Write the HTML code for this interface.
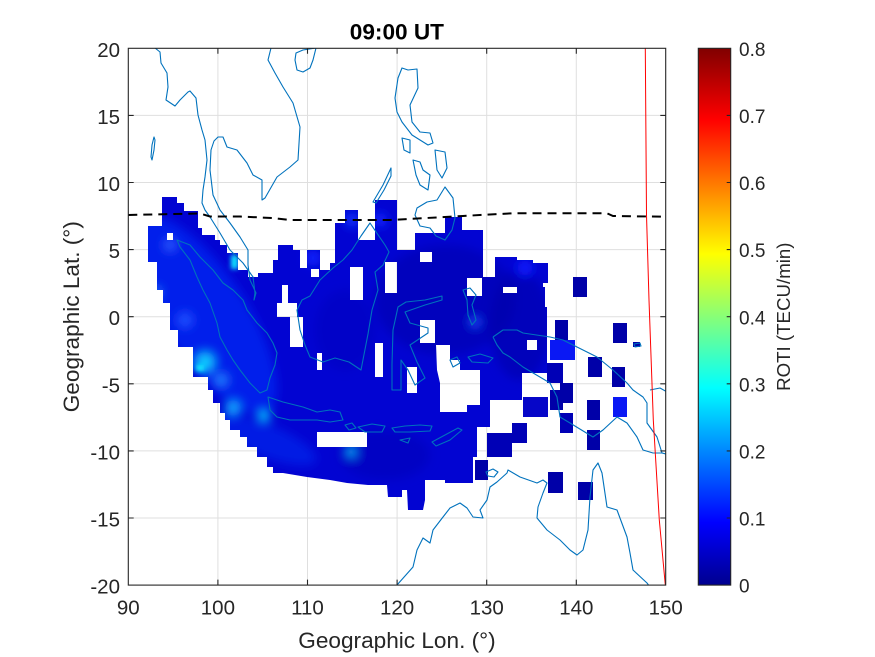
<!DOCTYPE html>
<html><head><meta charset="utf-8"><style>
html,body{margin:0;padding:0;background:#fff;}
svg{display:block;}
text{font-family:"Liberation Sans",Arial,sans-serif;fill:#262626;}
</style></head><body>
<svg width="875" height="657" viewBox="0 0 875 657" xmlns="http://www.w3.org/2000/svg">
<defs>
<clipPath id="ax"><rect x="128.3" y="48.3" width="537.4" height="536.8"/></clipPath>
<path id="blob" fill-rule="evenodd" d="M148,226 L162,226 L162,197 L177,197 L177,203 L184,203 L184,211 L198,211 L198,228 L202,228 L202,235 L215,235 L215,240 L220,240 L220,245 L227,245 L227,253 L238,253 L238,270 L248,270 L248,277 L258,277 L258,273 L273,273 L273,260 L278,260 L278,245 L293,245 L293,250 L300,250 L300,268 L307,268 L307,250 L320,250 L320,270 L330,270 L330,263 L335,263 L335,223 L345,223 L345,210 L358,210 L358,240 L375,240 L375,200 L397,200 L397,250 L415,250 L415,233 L445,233 L445,217 L462,217 L462,230 L483,230 L483,277 L495,277 L495,257 L517,257 L517,260 L533,260 L533,263 L548,263 L548,283 L543,283 L543,287 L545,287 L545,307 L547,307 L547,373 L522,373 L522,400 L490,400 L490,427 L477,427 L477,457 L473,457 L473,483 L445,483 L445,480 L425,480 L425,500 L423,510 L408,510 L407,490 L402,490 L402,497 L388,497 L387,485 L368,485 L347,483 L330,480 L307,477 L283,473 L273,473 L273,467 L267,467 L267,457 L257,457 L257,447 L247,447 L247,437 L240,437 L240,430 L230,430 L230,420 L225,420 L225,413 L220,413 L220,403 L213,403 L213,390 L208,390 L208,377 L193,377 L193,347 L178,347 L178,330 L170,330 L170,303 L163,303 L163,290 L157,290 L157,262 L148,262 Z
M282,285 L288,285 L288,303 L297,303 L297,317 L303,317 L303,347 L290,347 L290,317 L277,317 L277,303 L282,303 Z
M350,267 L363,267 L363,300 L350,300 Z
M317,353 L322,353 L322,370 L317,370 Z
M375,343 L383,343 L383,377 L375,377 Z
M407,367 L417,367 L417,393 L407,393 Z
M420,320 L435,320 L435,343 L420,343 Z
M436,345 L450,345 L450,360 L460,360 L460,370 L480,370 L480,405 L467,405 L467,412 L440,412 L440,383 L437,370 Z
M317,432 L367,432 L367,447 L317,447 Z
M385,262 L397,262 L397,293 L385,293 Z
M467,278 L482,278 L482,296 L467,296 Z
M503,287 L517,287 L517,293 L503,293 Z
M527,340 L537,340 L537,350 L527,350 Z
M311,269 L319,269 L319,277 L311,277 Z
M167,233 L173,233 L173,240 L167,240 Z
M420,252 L432,252 L432,262 L420,262 Z"/>
<clipPath id="cb"><use href="#blob" clip-rule="evenodd"/></clipPath>
<filter id="bl" x="-50%" y="-50%" width="200%" height="200%"><feGaussianBlur stdDeviation="5"/></filter>
<filter id="bl2" x="-50%" y="-50%" width="200%" height="200%"><feGaussianBlur stdDeviation="2.5"/></filter>
<linearGradient id="jet" x1="0" y1="1" x2="0" y2="0">
<stop offset="0" stop-color="rgb(0,0,143)"/>
<stop offset="0.117" stop-color="rgb(0,0,255)"/>
<stop offset="0.367" stop-color="rgb(0,255,255)"/>
<stop offset="0.617" stop-color="rgb(255,255,0)"/>
<stop offset="0.867" stop-color="rgb(255,0,0)"/>
<stop offset="1" stop-color="rgb(128,0,0)"/>
</linearGradient>
</defs>

<rect x="0" y="0" width="875" height="657" fill="#fff"/>

<path stroke="#dfdfdf" stroke-width="1" fill="none" d="M217.9,48.3V585 M307.5,48.3V585 M397.1,48.3V585 M486.7,48.3V585 M576.3,48.3V585 M128.3,115.4H665.7 M128.3,182.5H665.7 M128.3,249.6H665.7 M128.3,316.7H665.7 M128.3,383.8H665.7 M128.3,450.9H665.7 M128.3,518H665.7"/>

<use href="#blob" fill="#0204d2"/>
<g clip-path="url(#cb)">
<g filter="url(#bl)">
<ellipse cx="205" cy="315" rx="42" ry="115" transform="rotate(-33 205 315)" fill="#0a34ff" opacity="0.55"/>
<ellipse cx="265" cy="440" rx="55" ry="16" transform="rotate(22 265 440)" fill="#0c40ff" opacity="0.4"/>
<ellipse cx="445" cy="300" rx="70" ry="55" fill="#0000a8" opacity="0.5"/>
<ellipse cx="520" cy="325" rx="30" ry="55" fill="#0000a8" opacity="0.55"/>
<ellipse cx="385" cy="455" rx="45" ry="25" fill="#0000b4" opacity="0.45"/>
<ellipse cx="345" cy="330" rx="30" ry="40" fill="#0000b8" opacity="0.4"/>
<circle cx="205" cy="362" r="10" fill="#10c8ff"/>
<circle cx="221" cy="380" r="7" fill="#2080ff"/>
<circle cx="233" cy="408" r="8" fill="#10a8ff"/>
<circle cx="264" cy="416" r="6" fill="#00d0ff"/>
<circle cx="156" cy="292" r="5" fill="#2080ff"/>
<circle cx="351" cy="452" r="5" fill="#10c8ff"/>
<circle cx="475" cy="322" r="5" fill="#1a50ff"/>
<circle cx="313" cy="258" r="8" fill="#0a28ff"/>
<circle cx="352" cy="220" r="7" fill="#1038ff"/>
<circle cx="525" cy="268" r="8" fill="#0a1cff"/>
<circle cx="380" cy="220" r="7" fill="#0a28ff"/>
<circle cx="170" cy="245" r="6" fill="#2a60ff"/>
<circle cx="185" cy="320" r="8" fill="#1a50ff"/>
</g>
<g filter="url(#bl2)">
<rect x="231" y="255" width="7" height="14" fill="#10e8ff"/>
<rect x="196" y="365" width="8" height="6" fill="#10f0ff"/>
</g>
</g>

<path fill="#0000a8" d="M573,277h14v20h-14Z M555,320h13v20h-13Z M613,323h14v20h-14Z M588,357h14v20h-14Z M612,367h13v20h-13Z M560,383h13v20h-13Z M550,390h13v20h-13Z M587,400h13v20h-13Z M587,430h13v20h-13Z M548,472h15v21h-15Z M578,482h15v18h-15Z M475,460h13v20h-13Z M633,342h7v5h-7Z"/>
<path fill="#0000b6" d="M547,363h16v20h-16Z M560,413h13v20h-13Z M487,433h25v24h-25Z M512,423h15v20h-15Z"/>
<path fill="#0606c8" d="M523,397h25v20h-25Z"/>
<path fill="#0a18f4" d="M550,340h25v20h-25Z M613,397h14v20h-14Z"/>

<g clip-path="url(#ax)" fill="none" stroke="#0072bd" stroke-width="1.1" stroke-linejoin="round">
<path d="M155,48 L160,52 L161,63 L167,73 L168,87 L166,100 L175,106 L180,100 L188,92 L190,91 L196,98 L198,115 L202,130 L205,140 L207,160 L205,177 L203,190 L202,203 L205,210 L210,217 L220,233 L230,250 L243,263 L253,277 L255,293 L254,300 L256,293 L250,280 L248,265 L248,250 L240,237 L230,223 L220,210 L213,195 L210,170 L211,150 L214,141 L218,137 L223,137 L227,147 L237,150 L247,163 L253,175 L262,180 L262,200 L265,198 L277,177 L290,167 L298,160 L300,127 L293,103 L283,87 L275,73 L268,60 L271,48"/>
<path d="M296,53 L303,50 L316,48 L313,60 L310,68 L303,72 L297,70 L295,60 Z"/>
<path d="M152,160 L154,150 L155,140 L154,137 L152,145 L151,157 Z"/>
<path d="M177,240 L190,245 L200,257 L213,270 L223,283 L233,290 L243,300 L247,310 L257,323 L267,333 L273,343 L277,353 L275,365 L270,378 L267,390 L260,393 L250,383 L240,370 L233,360 L227,350 L220,337 L217,323 L210,303 L203,290 L197,277 L190,260 L180,247 Z"/>
<path d="M268,397 L283,402 L303,407 L317,412 L330,410 L340,412 L343,420 L330,422 L317,420 L303,420 L290,420 L277,417 L270,410 Z"/>
<path d="M370,223 L385,245 L389,252 L383,265 L375,272 L378,290 L372,310 L368,334 L361,370 L349,362 L335,358 L323,362 L310,357 L305,345 L300,330 L297,310 L302,300 L310,296 L320,280 L333,268 L343,260 L352,250 L361,236 Z"/>
<path d="M442,296 L425,300 L406,302 L398,307 L393,330 L392,364 L392,390 L401,390 L401,360 L408,370 L415,385 L425,378 L417,362 L410,345 L428,333 L428,328 L410,323 L405,312 L425,305 L442,300 Z"/>
<path d="M402,68 L408,70 L417,69 L418,88 L410,105 L412,122 L420,132 L430,133 L433,143 L428,145 L420,140 L412,135 L402,122 L397,112 L395,98 L398,78 Z"/>
<path d="M402,138 L410,140 L410,153 L404,150 Z"/>
<path d="M435,150 L445,152 L447,168 L442,178 L437,170 L436,160 Z"/>
<path d="M413,160 L420,162 L423,170 L430,175 L428,190 L420,185 L416,175 Z"/>
<path d="M417,208 L427,202 L437,200 L445,187 L453,198 L455,218 L452,230 L445,240 L436,236 L430,228 L420,226 L415,215 Z"/>
<path d="M373,202 L383,185 L391,168 L391,176 L384,190 L376,203 Z"/>
<path d="M493,337 L503,330 L517,330 L523,333 L550,337 L563,340 L583,350 L597,357 L613,370 L627,383 L633,390 L643,397 L647,403 L647,423 L657,437 L662,453 L670,455"/>
<path d="M493,337 L497,345 L503,353 L510,357 L523,367 L550,383 L557,397 L560,417 L570,423 L593,437 L603,430 L617,417 L627,423 L637,437 L643,450 L653,453 L662,453"/>
<path d="M397,585 L413,567 L417,550 L423,538 L430,543 L433,530 L443,517 L450,508 L460,503 L467,508 L473,517 L483,518 L480,510 L487,500 L490,487 L497,482 L507,473 L508,470 L520,477 L537,483 L543,480 L547,483 L543,493 L538,507 L537,518 L547,530 L560,540 L570,550 L577,555 L583,550 L588,530 L590,497 L593,470 L598,463 L602,473 L607,507 L617,510 L627,537 L630,553 L633,570 L647,583 L650,587"/>
<path d="M486,472 L493,469 L498,472 L494,477 L488,476 Z M345,425 L352,423 L356,428 L349,430 Z M358,427 L372,424 L385,426 L382,432 L365,432 Z M392,428 L405,426 L420,425 L432,426 L430,431 L410,432 L395,432 Z M432,442 L445,435 L458,428 L462,430 L450,440 L436,446 Z M400,440 L410,438 L408,443 Z M463,290 L467,300 L468,315 L472,325 L476,320 L472,305 L476,295 L470,288 Z M468,357 L480,354 L493,358 L488,363 L472,362 Z M450,360 L457,357 L460,363 L453,367 Z M634,344 L640,343 L641,346 L635,347 Z M650,390 L660,388 L667,392"/>
</g>

<polyline clip-path="url(#ax)" fill="none" stroke="#000" stroke-width="2" stroke-dasharray="9,6" points="128.3,215 200,213.5 210,216.5 240,216.5 272,218 290,220 390,220 463,216 480,215 513,213.3 607,213.3 613,216 665.7,216.7"/>

<polyline fill="none" stroke="#ff0000" stroke-width="1" points="645.3,48.3 646.5,215 649,300 653.3,420 659.3,520 665.3,585"/>

<g stroke="#262626" stroke-width="1.1" fill="none">
<rect x="128.3" y="48.3" width="537.4" height="536.8"/>
<path d="M217.9,585V579.6 M307.5,585V579.6 M397.1,585V579.6 M486.7,585V579.6 M576.3,585V579.6 M217.9,48.3V53.7 M307.5,48.3V53.7 M397.1,48.3V53.7 M486.7,48.3V53.7 M576.3,48.3V53.7 M128.3,115.4H133.7 M128.3,182.5H133.7 M128.3,249.6H133.7 M128.3,316.7H133.7 M128.3,383.8H133.7 M128.3,450.9H133.7 M128.3,518H133.7 M665.7,115.4H660.3 M665.7,182.5H660.3 M665.7,249.6H660.3 M665.7,316.7H660.3 M665.7,383.8H660.3 M665.7,450.9H660.3 M665.7,518H660.3"/>
</g>

<g font-size="20.5" text-anchor="middle">
<text x="128.3" y="614.5">90</text>
<text x="217.9" y="614.5">100</text>
<text x="307.5" y="614.5">110</text>
<text x="397.1" y="614.5">120</text>
<text x="486.7" y="614.5">130</text>
<text x="576.3" y="614.5">140</text>
<text x="665.7" y="614.5">150</text>
</g>
<g font-size="20.5" text-anchor="end">
<text x="120" y="56.8">20</text>
<text x="120" y="123.9">15</text>
<text x="120" y="191">10</text>
<text x="120" y="258.1">5</text>
<text x="120" y="325.2">0</text>
<text x="120" y="392.3">-5</text>
<text x="120" y="459.4">-10</text>
<text x="120" y="526.5">-15</text>
<text x="120" y="593.6">-20</text>
</g>

<text x="396.9" y="39.7" font-size="22.6" font-weight="bold" text-anchor="middle" style="fill:#000">09:00 UT</text>
<text x="397" y="648" font-size="22.6" text-anchor="middle">Geographic Lon. (°)</text>
<text transform="translate(79,316.7) rotate(-90)" font-size="22.6" text-anchor="middle">Geographic Lat. (°)</text>

<rect x="698.3" y="48.3" width="32.4" height="536.8" fill="url(#jet)"/>
<g stroke="#262626" stroke-width="1.1" fill="none">
<rect x="698.3" y="48.3" width="32.4" height="536.8"/>
<path d="M730.7,115.4H726.7 M730.7,182.5H726.7 M730.7,249.6H726.7 M730.7,316.7H726.7 M730.7,383.8H726.7 M730.7,450.9H726.7 M730.7,518H726.7"/>
</g>
<g font-size="19">
<text x="739" y="55.9">0.8</text>
<text x="739" y="123">0.7</text>
<text x="739" y="190.1">0.6</text>
<text x="739" y="257.2">0.5</text>
<text x="739" y="324.3">0.4</text>
<text x="739" y="391.4">0.3</text>
<text x="739" y="458.5">0.2</text>
<text x="739" y="525.6">0.1</text>
<text x="739" y="592.7">0</text>
</g>
<text transform="translate(790,316.7) rotate(-90)" font-size="18.7" text-anchor="middle">ROTI (TECU/min)</text>
</svg>
</body></html>
